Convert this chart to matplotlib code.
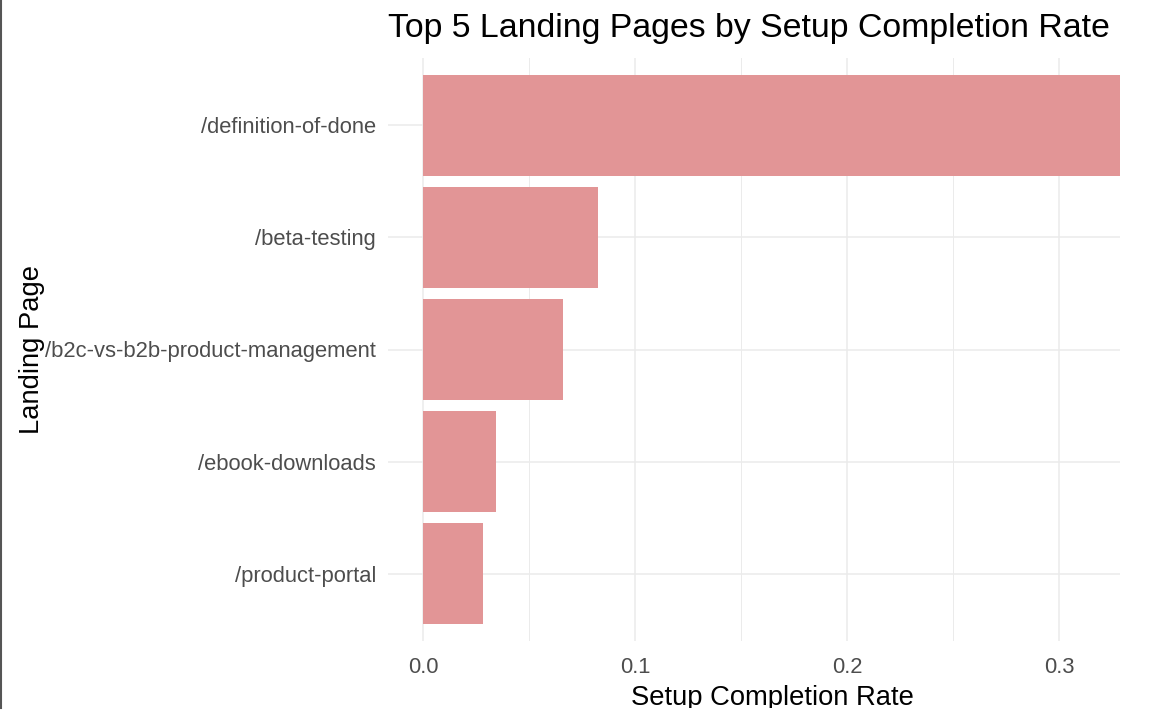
import matplotlib.pyplot as plt
from matplotlib.lines import Line2D
from matplotlib.patches import Rectangle

# landing pages, top to bottom
pages = [
    "/definition-of-done",
    "/beta-testing",
    "/b2c-vs-b2b-product-management",
    "/ebook-downloads",
    "/product-portal",
]
completion_rate = [0.330, 0.0825, 0.066, 0.0344, 0.0283]
x_ticks = [0.0, 0.1, 0.2, 0.3]
x_minor = [0.05, 0.15, 0.25]

BAR_COLOR = "#E29596"
GRID_COLOR = "#EBEBEB"
W, H = 1166, 726

plt.rcParams["font.family"] = ["Liberation Sans", "DejaVu Sans"]

fig = plt.figure(figsize=(W / 100, H / 100), dpi=100)
# panel in pixels: left 388, right 1120, top 58, bottom 641
ax = fig.add_axes([388 / W, 1 - 641 / H, (1120 - 388) / W, (641 - 58) / H])

ypos = list(range(len(pages)))
ax.barh(ypos, completion_rate, height=0.9, color=BAR_COLOR, zorder=2)

ax.set_xlim(-0.0165, 0.3288)
ax.set_ylim(4.6, -0.6)

ax.set_xticks(x_ticks)
ax.set_xticklabels([f"{t:.1f}" for t in x_ticks])
ax.set_xticks(x_minor, minor=True)
ax.set_yticks(ypos)
ax.set_yticklabels(pages)

ax.grid(True, which="major", color=GRID_COLOR, linewidth=1.1, zorder=0)
ax.grid(True, which="minor", axis="x", color=GRID_COLOR, linewidth=0.7, zorder=0)
ax.set_axisbelow(True)
for s in ax.spines.values():
    s.set_visible(False)

ax.tick_params(axis="both", which="both", length=0, labelsize=15.8, labelcolor="#4D4D4D")
ax.tick_params(axis="y", pad=8.6)
ax.tick_params(axis="x", pad=11.5)

ax.set_title("Top 5 Landing Pages by Setup Completion Rate", loc="left",
             fontsize=24.4, color="black", pad=15)
ax.set_xlabel("Setup Completion Rate", fontsize=19.7, color="black")
ax.set_ylabel("Landing Page", fontsize=19.7, color="black")
ax.xaxis.set_label_coords(0.5246, -0.076)
ax.yaxis.set_label_coords(-0.4686, 0.5)

# screenshot frame: dark border on the left, cut-off strip at the bottom
fig.add_artist(Line2D([0.8 / W, 0.8 / W], [18 / H, 1], color="#555555", linewidth=1.5, zorder=20))
fig.add_artist(Rectangle((0, 0), 1, 18 / H, facecolor="white", edgecolor="none", zorder=10))

fig.savefig("out.png", dpi=100)
